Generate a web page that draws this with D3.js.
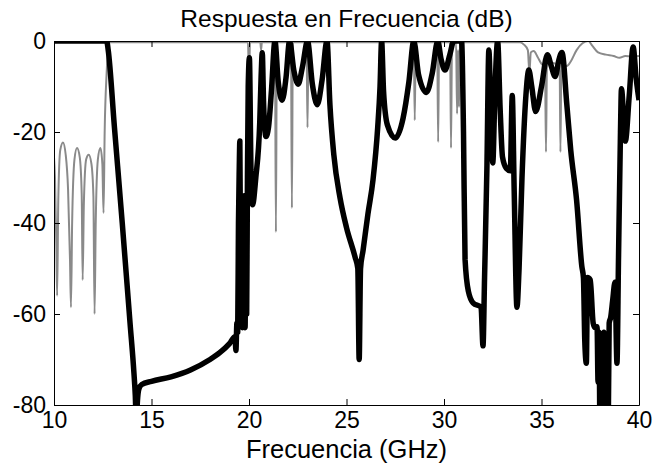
<!DOCTYPE html>
<html>
<head>
<meta charset="utf-8">
<script src="https://cdn.jsdelivr.net/npm/d3@7"></script>
<style>
    body { margin: 0; background: #fff; }
    text { font-family: "Liberation Sans", Arial, Helvetica, sans-serif; fill: #000; }
</style>
</head>
<body>
<svg id="freq_graph"></svg>
<script>
// values: [frequency GHz, response dB]
const blackResponse = [
    [10, 0], [12.7, 0], [12.78, -2], [13.1, -19], [13.5, -40], [13.9, -62], [14.1, -73],
    [14.17, -78], [14.22, -84], [14.28, -79], [14.35, -76.5], [14.5, -75.5], [15, -74.8],
    [16, -73.8], [17, -72.3], [18, -70], [18.5, -68.5], [19, -66.5], [19.28, -65],
    [19.33, -68], [19.38, -62], [19.42, -64], [19.46, -40], [19.5, -28], [19.53, -22],
    [19.56, -45], [19.6, -62], [19.63, -36], [19.66, -63], [19.7, -35], [19.73, -62],
    [19.76, -34], [19.8, -63], [19.84, -36], [19.88, -60], [19.92, -30], [19.96, -10],
    [20.02, -3.7], [20.1, -28], [20.18, -36],
    [20.35, -30], [20.55, -18], [20.62, -8], [20.68, -2.6], [20.75, -14], [20.87, -21],
    [21.0, -19], [21.15, -11], [21.33, 0], [21.5, -9], [21.7, -13], [21.9, -8], [22.08, 0],
    [22.3, -6.5], [22.52, -9.5], [22.75, -5.5], [23.0, 0], [23.25, -9.5], [23.5, -14],
    [23.75, -8.5], [24.0, 0], [24.15, -14], [24.35, -25], [24.67, -34.5], [25.0, -41],
    [25.44, -47.5], [25.58, -50], [25.65, -70], [25.72, -50], [25.85, -46], [26.1, -38],
    [26.36, -30.5], [26.6, -19], [26.72, -10], [26.8, 0], [26.9, -11], [27.1, -18.5],
    [27.5, -21.3], [27.9, -17], [28.2, -9], [28.45, 0], [28.7, -7.5], [29.1, -11.3],
    [29.4, -7], [29.68, 0], [29.85, -4], [30.05, -6.4], [30.3, -3], [30.5, 0], [30.9, 0],
    [31.0, -20], [31.08, -48], [31.25, -55], [31.5, -57.6], [31.9, -58.5], [32.0, -67],
    [32.08, -52], [32.2, -28], [32.3, -2], [32.4, -15], [32.5, -26.8], [32.62, -10],
    [32.75, 0], [32.88, -15], [33.0, -25.5], [33.2, -28], [33.4, -28.5], [33.5, -12],
    [33.6, -33], [33.74, -58.5], [33.85, -50], [34.0, -30], [34.2, -12], [34.35, -6.4],
    [34.5, -10], [34.7, -15.5], [35.0, -10], [35.3, -3], [35.5, -5.5], [35.7, -7.8],
    [35.9, -4], [36.05, -2.5], [36.3, -14], [36.5, -24], [36.8, -35], [37.07, -49.6],
    [37.15, -52], [37.22, -66], [37.3, -70.8], [37.36, -52], [37.5, -52.5], [37.65, -62],
    [37.75, -63], [37.85, -62.8], [37.9, -75], [37.95, -64], [38.0, -86], [38.05, -66],
    [38.1, -86], [38.15, -68], [38.2, -64], [38.25, -86], [38.3, -66], [38.36, -65],
    [38.42, -86], [38.47, -62], [38.55, -60.7], [38.65, -57], [38.77, -53], [38.87, -70.8],
    [38.95, -47.5], [39.05, -20],
    [39.1, -10.5], [39.3, -22], [39.5, -12], [39.7, -1.3], [39.85, -8], [40.0, -13]
];

const grayResponse = [
    [10, -25.5], [10.05, -30], [10.12, -45], [10.16, -56], [10.22, -35], [10.32, -24],
    [10.46, -22.3], [10.6, -25], [10.72, -32.5], [10.82, -48], [10.87, -58.5], [10.93, -40],
    [11.05, -26], [11.18, -23.5], [11.32, -25.5], [11.42, -33.5], [11.47, -52.5], [11.53, -36],
    [11.65, -26], [11.78, -25], [11.92, -27], [12.02, -34], [12.08, -60], [12.14, -40],
    [12.25, -26], [12.38, -23.5], [12.48, -27], [12.54, -37.8], [12.6, -19.6], [12.7, -7],
    [12.8, -0.3], [19.95, -0.3], [20.0, -10], [20.05, -0.3], [20.58, -0.3], [20.62, -2],
    [20.66, -0.3], [21.33, -0.3], [21.38, -42], [21.43, -0.3], [22.15, -0.3], [22.2, -36.7],
    [22.25, -0.3], [22.95, -0.3], [23.0, -19], [23.05, -0.3], [28.45, -0.3], [28.5, -17.4],
    [28.55, -0.3], [29.65, -0.3], [29.7, -22.2], [29.75, -0.3], [30.31, -0.3], [30.36, -23.5],
    [30.41, -0.3], [30.62, -0.3], [30.67, -16], [30.72, -2], [30.77, -14.5], [30.82, -0.3],
    [33.4, -0.3], [33.9, -0.3], [34.1, -0.8], [34.3, -2], [34.38, -7], [34.45, -2.5],
    [34.6, -2.2], [34.8, -3.5], [35.0, -5], [35.18, -5.5], [35.23, -24.4], [35.28, -5],
    [35.5, -4.8], [35.75, -5], [35.93, -5.2], [35.97, -24.4], [36.02, -5], [36.3, -5.5],
    [36.5, -4.5], [36.8, -2], [37.1, -0.5], [37.4, 0], [37.6, -1], [37.9, -2.5], [38.3, -3],
    [38.7, -3.3], [39.0, -3.7], [39.3, -3.3], [39.6, -3.4], [40, -3.3]
];

const xTicks = [10, 15, 20, 25, 30, 35, 40];
const yTicks = [0, -20, -40, -60, -80];

const svg_width = 666, svg_height = 466;
const margin = { top: 41, right: 27, bottom: 61, left: 54 },
    width = svg_width - margin.left - margin.right,
    height = svg_height - margin.top - margin.bottom;

const svg = d3.select("#freq_graph")
    .attr("width", svg_width)
    .attr("height", svg_height)
    .append("g")
    .attr("transform", `translate(${margin.left},${margin.top})`);

const x = d3.scaleLinear().domain([10, 40]).range([0, width]);
const y = d3.scaleLinear().domain([-80, 0]).range([height, 0]);

svg.append("defs").append("clipPath")
    .attr("id", "plot-clip")
    .append("rect")
    .attr("width", width)
    .attr("height", height);

const line = d3.line()
    .x(d => x(d[0]))
    .y(d => y(d[1]))
    .curve(d3.curveMonotoneX);

const plot = svg.append("g").attr("clip-path", "url(#plot-clip)");

plot.append("path")
    .datum(grayResponse)
    .attr("fill", "none")
    .attr("stroke", "#8a8a8a")
    .attr("stroke-width", 2)
    .attr("d", line);

plot.append("path")
    .datum(blackResponse)
    .attr("fill", "none")
    .attr("stroke", "#000")
    .attr("stroke-width", 5.5)
    .attr("stroke-linejoin", "round")
    .attr("d", line);

// matlab style box, ticks pointing inwards on every side
const fmt = d => String(d);
svg.append("g")
    .attr("class", "x-axis")
    .attr("transform", `translate(0,${height})`)
    .call(d3.axisBottom(x).tickValues(xTicks).tickFormat(fmt).tickSizeInner(-6).tickSizeOuter(0).tickPadding(7));

svg.append("g")
    .call(d3.axisTop(x).tickValues(xTicks).tickFormat("").tickSizeInner(-6).tickSizeOuter(0));

svg.append("g")
    .attr("class", "y-axis")
    .call(d3.axisLeft(y).tickValues(yTicks).tickFormat(fmt).tickSizeInner(-6).tickSizeOuter(0).tickPadding(8));

svg.append("g")
    .attr("transform", `translate(${width},0)`)
    .call(d3.axisRight(y).tickValues(yTicks).tickFormat("").tickSizeInner(-6).tickSizeOuter(0));

svg.selectAll(".tick text").style("font-size", "23px");
svg.selectAll(".domain, .tick line").attr("stroke", "#000");

svg.append("text")
    .attr("x", width / 2)
    .attr("y", -14)
    .attr("text-anchor", "middle")
    .style("font-size", "24.5px")
    .text("Respuesta en Frecuencia (dB)");

svg.append("text")
    .attr("x", width / 2)
    .attr("y", height + 53)
    .attr("text-anchor", "middle")
    .style("font-size", "25.5px")
    .text("Frecuencia (GHz)");
</script>
</body>
</html>
